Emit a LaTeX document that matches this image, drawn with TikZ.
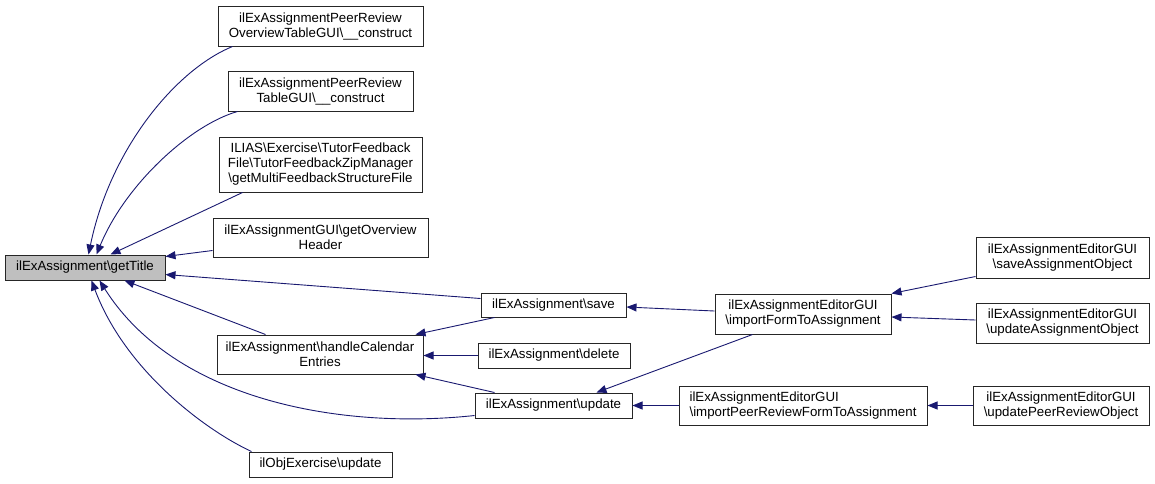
\documentclass[tikz,border=0pt]{standalone}
\usepackage{fontspec}
\setmainfont{Liberation Sans}
\usetikzlibrary{arrows.meta,calc}
\definecolor{edgec}{HTML}{191970}
\definecolor{rootfill}{HTML}{BFBFBF}
\tikzset{
  fn/.style={draw=black!85, line width=1pt, fill=white, inner sep=1pt, align=center,
             font=\fontsize{13.3pt}{15pt}\selectfont, text=black},
  rootfn/.style={fn, fill=rootfill},
  edge/.style={draw=edgec, line width=0.9pt, -{Triangle[length=10pt,width=8pt]}},
}
\newcommand{\bs}{\textbackslash}
\begin{document}
\begin{tikzpicture}[x=1pt,y=-1pt]
\useasboundingbox (0,0) rectangle (1155,483);
% nodes
\node[rootfn, minimum width=160pt, minimum height=25pt] (root) at (85,267.5) {ilExAssignment\bs getTitle};
\node[fn, minimum width=205pt, minimum height=40pt] (n1) at (320.5,26) {ilExAssignmentPeerReview\\OverviewTableGUI\bs\_\_construct};
\node[fn, minimum width=185pt, minimum height=40pt] (n2) at (320.5,91) {ilExAssignmentPeerReview\\TableGUI\bs\_\_construct};
\node[fn, minimum width=203pt, minimum height=55pt] (n3) at (320.5,164.5) {ILIAS\bs Exercise\bs TutorFeedback\\File\bs TutorFeedbackZipManager\\\bs getMultiFeedbackStructureFile};
\node[fn, minimum width=215pt, minimum height=39pt] (n4) at (320.5,237.5) {ilExAssignmentGUI\bs getOverview\\Header};
\node[fn, minimum width=206pt, minimum height=39pt] (hc) at (320,354.5) {ilExAssignment\bs handleCalendar\\Entries};
\node[fn, minimum width=143pt, minimum height=25pt] (ilobj) at (320.5,464.5) {ilObjExercise\bs update};
\node[fn, minimum width=145pt, minimum height=24pt] (save) at (553.5,305) {ilExAssignment\bs save};
\node[fn, minimum width=152pt, minimum height=25pt] (del) at (554,355.5) {ilExAssignment\bs delete};
\node[fn, minimum width=157pt, minimum height=25pt] (upd) at (553.5,405.5) {ilExAssignment\bs update};
\node[fn, minimum width=176pt, minimum height=40pt] (if) at (803,314) {ilExAssignmentEditorGUI\\\bs importFormToAssignment};
\node[fn, align=left, minimum width=248pt, minimum height=39pt] (ip) at (803,405.5) {ilExAssignmentEditorGUI\\\bs importPeerReviewFormToAssignment};
\node[fn, minimum width=173pt, minimum height=41pt] (sao) at (1062.5,257.5) {ilExAssignmentEditorGUI\\\bs saveAssignmentObject};
\node[fn, minimum width=173pt, minimum height=40pt] (uao) at (1062.5,323) {ilExAssignmentEditorGUI\\\bs updateAssignmentObject};
\node[fn, minimum width=176pt, minimum height=39pt] (upro) at (1061,405.5) {ilExAssignmentEditorGUI\\\bs updatePeerReviewObject};
% edges
\draw[edge] ($(n1.south west)+(15,0)$) .. controls (175,70) and (110,150) .. ($(root.north west)+(84,0)$);
\draw[edge] ($(n2.south west)+(10,0)$) .. controls (190,125) and (125,185) .. ($(root.north west)+(92,0)$);
\draw[edge] ($(n3.south west)+(24,0)$) -- ($(root.north west)+(106,0)$);
\draw[edge] ($(n4.south west)+(0,-7)$) -- ($(root.north east)+(0,2)$);
\draw[edge] ($(save.north west)+(0,6)$) -- ($(root.south east)+(0,-6)$);
\draw[edge] ($(hc.north west)+(49,0)$) -- ($(root.south west)+(120,0)$);
\draw[edge] ($(upd.south west)+(0,-3)$) .. controls (340,430) and (175,400) .. ($(root.south west)+(95,0)$);
\draw[edge] ($(ilobj.north west)+(3,0)$) .. controls (205,430) and (125,370) .. ($(root.south west)+(87,0)$);
\draw[edge] ($(save.south west)+(14,0)$) -- ($(hc.north east)+(-8,0)$);
\draw[edge] (del.west) -- (del.west -| hc.east);
\draw[edge] ($(upd.north west)+(20,0)$) -- ($(hc.south east)+(-8,0)$);
\draw[edge] ($(if.west)+(0,-3)$) -- ($(save.east)+(0,2)$);
\draw[edge] ($(if.south west)+(38,0)$) -- ($(upd.north west)+(122,0)$);
\draw[edge] (ip.west) -- (ip.west -| upd.east);
\draw[edge] ($(sao.south west)+(0,-2)$) -- (if.north east);
\draw[edge] ($(uao.west)+(0,-3)$) -- ($(if.east)+(0,3)$);
\draw[edge] (upro.west) -- (upro.west -| ip.east);
\end{tikzpicture}
\end{document}
